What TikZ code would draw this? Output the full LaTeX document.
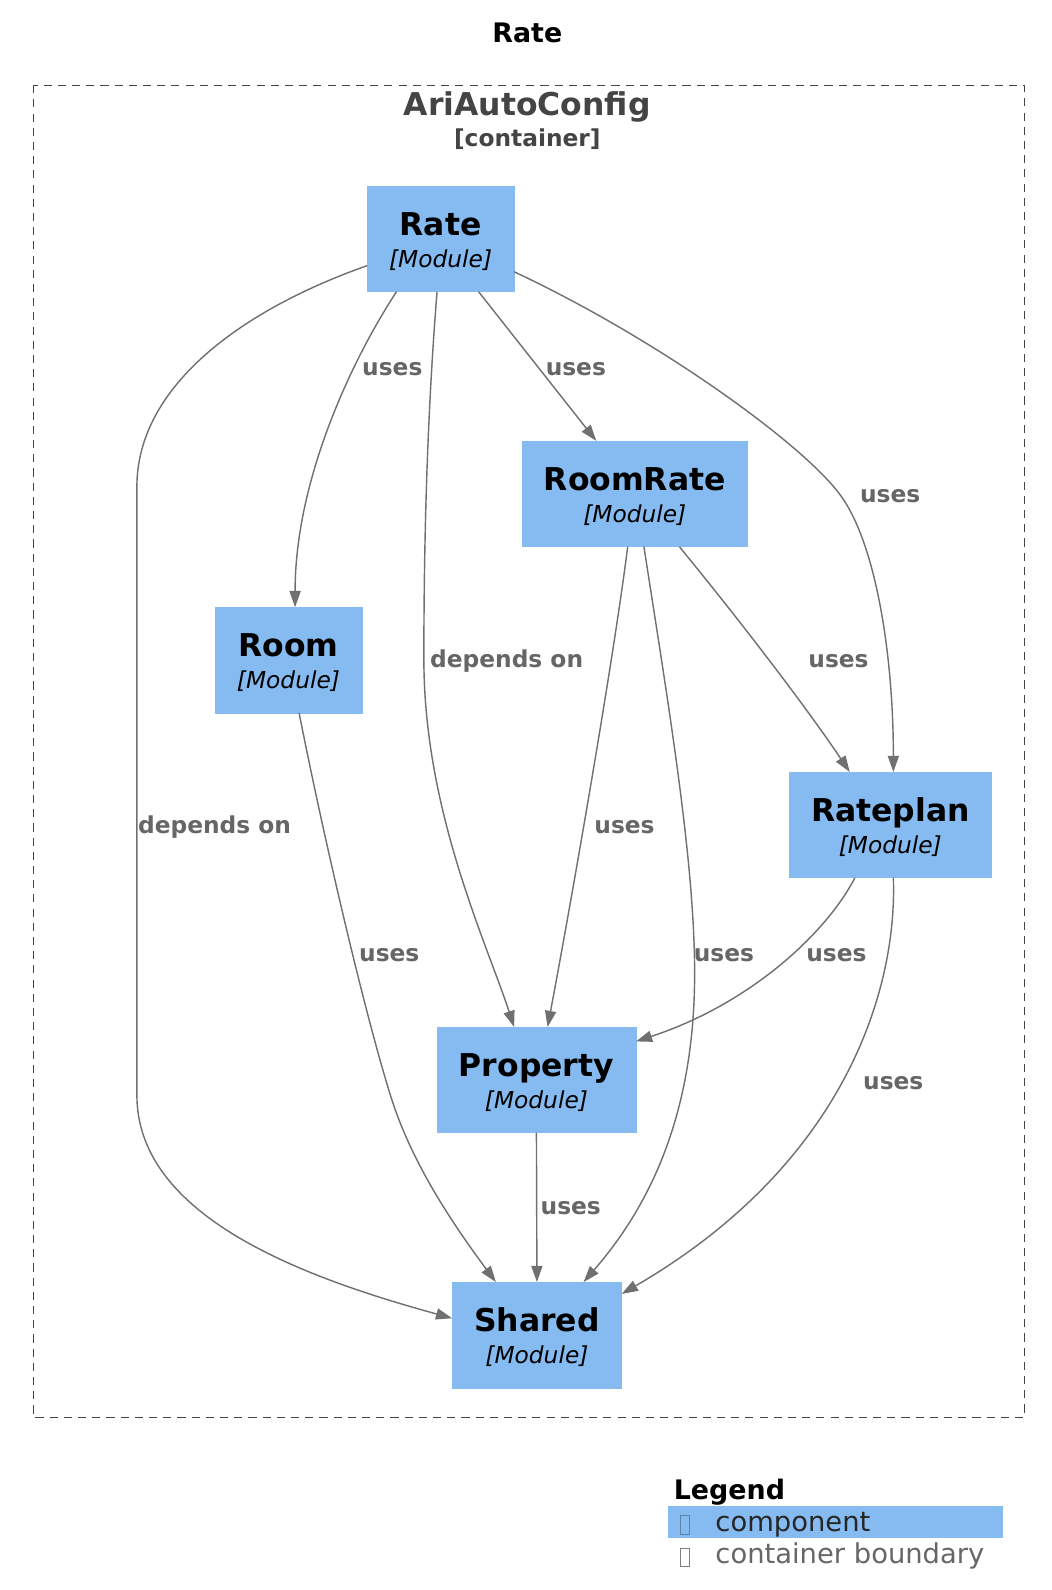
\documentclass[tikz,border=0pt]{standalone}
\usepackage{fontspec}
\setmainfont{DejaVu Sans}
\usetikzlibrary{arrows.meta,calc}
\definecolor{compblue}{HTML}{85BBF0}
\definecolor{relgray}{HTML}{707070}
\definecolor{lblgray}{HTML}{666666}
\definecolor{bndgray}{HTML}{444444}
\tikzset{
  module/.style={rectangle, fill=compblue, draw=compblue, inner xsep=21.5pt, inner ysep=0pt,
    minimum height=104pt, align=center, font=\fontsize{23}{31.5}\selectfont},
  rel/.style={draw=relgray, line width=1.4pt, -{Triangle[length=16pt,width=11pt]}},
  lbl/.style={anchor=base west, inner sep=0pt, text=lblgray, font=\bfseries\fontsize{23}{28}\selectfont},
}
\newcommand{\modtext}[1]{\rule{0pt}{28pt}{\fontsize{31}{31.5}\selectfont\bfseries #1}\\{\itshape [Module]}}
\begin{document}
\begin{tikzpicture}[x=1pt,y=-1pt]
\useasboundingbox (0,0) rectangle (1037,1568);
\node[anchor=base, font=\bfseries\fontsize{26.5}{30}\selectfont] (title) at (520,41.5) {Rate};
\draw[bndgray, line width=1.2pt, dash pattern=on 8pt off 6pt] (33,84) rectangle (1010,1398);
\node[anchor=base, text=bndgray, font=\bfseries\fontsize{31}{34}\selectfont] (ari) at (520,114) {AriAutoConfig};
\node[anchor=base, text=bndgray, font=\bfseries\fontsize{23}{28}\selectfont] (aritype) at (520,144) {[container]};
\node[module] (rate) at (434.5,235.5) {\modtext{Rate}};
\node[module] (roomrate) at (626,487) {\modtext{RoomRate}};
\node[module] (room) at (284.5,651) {\modtext{Room}};
\node[module] (rateplan) at (878,813.5) {\modtext{Rateplan}};
\node[module] (property) at (529,1065) {\modtext{Property}};
\node[module] (shared) at (529.5,1316.5) {\modtext{Shared}};
\draw[rel] ($(rate.south)+(-43.5,0)$) .. controls (350,350) and (291,470) .. ($(room.north)+(6.5,0)$);
\draw[rel] ($(rate.south)+(37.5,0)$) -- ($(roomrate.north)+(-38,0)$);
\draw[rel] ($(rate.south)+(-3.5,0)$) .. controls (422,400) and (418,520) .. (418,650)
  .. controls (418,800) and (480,930) .. ($(property.north)+(-22,0)$);
\draw[rel] ($(rate.east)+(0,32.5)$) .. controls (650,335) and (795,440) .. (830,490)
  .. controls (865,540) and (881,650) .. ($(rateplan.north)+(3,0)$);
\draw[rel] ($(rate.west)+(0,26.5)$) .. controls (240,305) and (135,380) .. (135,480) -- (135,1080)
  .. controls (135,1200) and (300,1260) .. ($(shared.west)+(0,-16.5)$);
\draw[rel] ($(roomrate.south)+(-7,0)$) .. controls (605,650) and (565,880) .. ($(property.north)+(11,0)$);
\draw[rel] ($(roomrate.south)+(9,0)$) .. controls (660,700) and (685,850) .. (685,960)
  .. controls (685,1100) and (640,1190) .. ($(shared.north)+(46,0)$);
\draw[rel] ($(roomrate.south)+(44,0)$) .. controls (720,600) and (790,690) .. ($(rateplan.north)+(-40,0)$);
\draw[rel] ($(room.south)+(10.5,0)$) .. controls (320,830) and (360,1000) .. (385,1080)
  .. controls (405,1145) and (445,1205) .. ($(shared.north)+(-40.5,0)$);
\draw[rel] ($(rateplan.south)+(-35,0)$) .. controls (815,920) and (740,990) .. ($(property.east)+(0,-38)$);
\draw[rel] ($(rateplan.south)+(3,0)$) .. controls (885,980) and (830,1150) .. ($(shared.east)+(0,-40.5)$);
\draw[rel] (property.south) -- (shared.north);
\node[lbl] (l-rate-room) at (357,370) {uses};
\node[lbl] (l-rate-roomrate) at (538,370) {uses};
\node[lbl] (l-rate-property) at (424,658) {depends on};
\node[lbl] (l-rate-rateplan) at (848,496) {uses};
\node[lbl] (l-rate-shared) at (136,822) {depends on};
\node[lbl] (l-roomrate-property) at (586,822) {uses};
\node[lbl] (l-roomrate-shared) at (684,948) {uses};
\node[lbl] (l-roomrate-rateplan) at (797,658) {uses};
\node[lbl] (l-room-shared) at (354,948) {uses};
\node[lbl] (l-rateplan-property) at (795,948) {uses};
\node[lbl] (l-rateplan-shared) at (851,1074) {uses};
\node[lbl] (l-property-shared) at (533,1198) {uses};
\node[anchor=base west, font=\bfseries\fontsize{26.5}{30}\selectfont] (legend) at (661,1479) {Legend};
\fill[compblue] (659,1485) rectangle (989,1517);
\draw[compblue!70!black, line width=0.8pt] (670.5,1494) rectangle (679.5,1513);
\node[anchor=base west, text=black!85, font=\fontsize{27}{30}\selectfont] (lg-comp) at (702,1510.5) {component};
\draw[gray, line width=0.8pt] (670.5,1527) rectangle (679.5,1545);
\node[anchor=base west, text=lblgray, font=\fontsize{27}{30}\selectfont] (lg-bound) at (702,1541.5) {container boundary};
\end{tikzpicture}
\end{document}
